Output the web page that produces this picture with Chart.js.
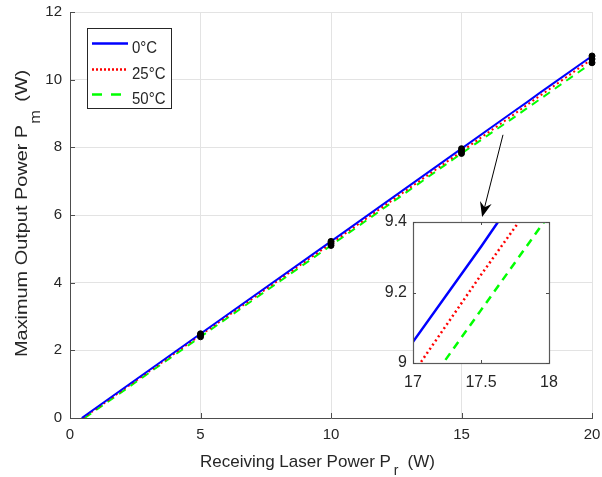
<!DOCTYPE html>
<html><head><meta charset="utf-8">
<script src="https://cdn.jsdelivr.net/npm/chart.js@4.4.0/dist/chart.umd.min.js"></script>
<style>
html,body{margin:0;padding:0;background:#fff;}
#wrap{position:relative;width:602px;height:477px;overflow:hidden;}
#main{position:absolute;left:0;top:0;}
#inset{position:absolute;left:360px;top:205px;}
</style></head><body>
<div id="wrap"><canvas id="main" width="602" height="477"></canvas><canvas id="inset" width="210" height="190"></canvas></div>
<script>
// ---- data ----
const seriesLabels = ['0°C', '25°C', '50°C'];
const prStart = [0.45, 0.50, 0.56];            // Pr where Pm reaches 0
const pr   = [5, 10, 15, 17, 17.5, 18, 20];
const pm0  = [2.49, 5.22, 7.96, 9.06, 9.33, 9.61, 10.70];
const pm25 = [2.45, 5.16, 7.88, 8.97, 9.25, 9.52, 10.61];
const pm50 = [2.40, 5.10, 7.82, 8.88, 9.15, 9.42, 10.50];
const markerPr = [5, 10, 15, 20];
const xTicks = [0, 5, 10, 15, 20];
const yTicks = [0, 2, 4, 6, 8, 10, 12];
const insetXTicks = [17, 17.5, 18];
const insetYTicks = [9, 9.2, 9.4];
const arrowFrom = {x: 16.59, y: 8.37};
const arrowTo = {x: 15.79, y: 5.94};

const FONT = "'Liberation Sans', Arial, sans-serif";
const TXT = '#262626';
const series = [pm0, pm25, pm50];
const colors = ['#0000ff', '#ff0000', '#00ff00'];
const dashes = [[], [2, 3], [8, 6]];

function lineData(i) {
  return [{x: prStart[i], y: 0}].concat(pr.map((x, k) => ({x, y: series[i][k]})));
}
function markerData() {
  const out = [];
  series.forEach(s => markerPr.forEach(x => out.push({x, y: s[pr.indexOf(x)]})));
  return out;
}
function lineSets(width) {
  return series.map((s, i) => ({
    label: seriesLabels[i], data: lineData(i), borderColor: colors[i], backgroundColor: colors[i],
    borderWidth: width, borderDash: dashes[i], pointRadius: 0, showLine: true, fill: false,
    tension: 0, order: i + 1
  }));
}

const whiteBg = {id: 'whiteBg', beforeDraw(c) {
  const ctx = c.ctx; ctx.save(); ctx.fillStyle = '#fff'; ctx.fillRect(0, 0, c.width, c.height); ctx.restore();
}};

function drawInTicks(chart, len, all, color) {
  const {ctx, chartArea: a, scales} = chart;
  ctx.save(); ctx.strokeStyle = color; ctx.lineWidth = 1; ctx.beginPath();
  scales.x.ticks.forEach(t => {
    const p = Math.round(scales.x.getPixelForValue(t.value)) + 0.5;
    ctx.moveTo(p, a.bottom); ctx.lineTo(p, a.bottom - len);
    if (all) { ctx.moveTo(p, a.top); ctx.lineTo(p, a.top + len); }
  });
  scales.y.ticks.forEach(t => {
    const p = Math.round(scales.y.getPixelForValue(t.value)) + 0.5;
    ctx.moveTo(a.left, p); ctx.lineTo(a.left + len, p);
    if (all) { ctx.moveTo(a.right, p); ctx.lineTo(a.right - len, p); }
  });
  ctx.stroke(); ctx.restore();
}

const mainDecor = {id: 'mainDecor',
  afterDraw(chart) {
    const {ctx, chartArea: a, scales} = chart;
    drawInTicks(chart, 5, false, '#4d4d4d');
    // arrow
    const x1 = scales.x.getPixelForValue(arrowFrom.x), y1 = scales.y.getPixelForValue(arrowFrom.y);
    const x2 = scales.x.getPixelForValue(arrowTo.x), y2 = scales.y.getPixelForValue(arrowTo.y);
    const ang = Math.atan2(y2 - y1, x2 - x1);
    ctx.save();
    ctx.strokeStyle = '#000'; ctx.fillStyle = '#000'; ctx.lineWidth = 1;
    ctx.beginPath(); ctx.moveTo(x1, y1); ctx.lineTo(x2 - 8 * Math.cos(ang), y2 - 8 * Math.sin(ang)); ctx.stroke();
    ctx.translate(x2, y2); ctx.rotate(ang);
    ctx.beginPath(); ctx.moveTo(0, 0); ctx.lineTo(-15, -6); ctx.lineTo(-10, 0); ctx.lineTo(-15, 6); ctx.closePath(); ctx.fill();
    ctx.restore();
    // legend
    const lx = a.left + 17.5, ly = a.top + 16.5, lw = 84, lh = 80;
    ctx.save();
    ctx.fillStyle = '#fff'; ctx.fillRect(lx, ly, lw, lh);
    ctx.strokeStyle = '#262626'; ctx.lineWidth = 1; ctx.strokeRect(lx, ly, lw, lh);
    const rows = [43, 69, 94];
    chart.data.datasets.slice(0, 3).forEach((d, i) => {
      ctx.beginPath(); ctx.strokeStyle = d.borderColor; ctx.lineWidth = 2.5;
      ctx.setLineDash(i === 1 ? [2, 2] : (i === 2 ? [10, 9] : []));
      ctx.moveTo(92, rows[i] + 0.5); ctx.lineTo(128, rows[i] + 0.5); ctx.stroke();
      ctx.setLineDash([]);
      ctx.fillStyle = TXT; ctx.font = '15px ' + FONT; ctx.textBaseline = 'alphabetic'; ctx.textAlign = 'left';
      ctx.save(); ctx.translate(132, rows[i] + 10); ctx.scale(1, 1.15); ctx.fillText(d.label, 0, 0); ctx.restore();
    });
    ctx.restore();
    // x title
    ctx.save(); ctx.fillStyle = TXT; ctx.textBaseline = 'alphabetic'; ctx.textAlign = 'left';
    ctx.font = '17px ' + FONT;
    const xt = 'Receiving Laser Power P';
    ctx.fillText(xt, 200, 467);
    let w = ctx.measureText(xt).width;
    ctx.font = '14px ' + FONT; ctx.fillText('r', 200 + w + 3, 475);
    const rw = ctx.measureText('r').width;
    ctx.font = '17px ' + FONT; ctx.fillText('(W)', 200 + w + 3 + rw + 9, 467);
    ctx.restore();
    // y title
    ctx.save(); ctx.fillStyle = TXT; ctx.textBaseline = 'alphabetic'; ctx.textAlign = 'left';
    ctx.translate(27, 357); ctx.rotate(-Math.PI / 2); ctx.scale(1.17, 1);
    ctx.font = '17px ' + FONT;
    const yt = 'Maximum Output Power P';
    ctx.fillText(yt, 0, 0);
    w = ctx.measureText(yt).width;
    ctx.font = '14px ' + FONT; ctx.fillText('m', w + 1, 13);
    const mw = ctx.measureText('m').width;
    ctx.font = '17px ' + FONT; ctx.fillText('(W)', w + 1 + mw + 7, 0);
    ctx.restore();
  }
};

function fitX(h) { return s => { s.height = h; s.paddingLeft = 0; s.paddingRight = 0; s.paddingTop = 0; s.paddingBottom = 0; }; }
function fitY(w) { return s => { s.width = w; s.paddingLeft = 0; s.paddingRight = 0; s.paddingTop = 0; s.paddingBottom = 0; }; }

const mainChart = new Chart(document.getElementById('main'), {
  type: 'scatter',
  data: {datasets: lineSets(2).concat([{
    label: 'points', data: markerData(), pointRadius: 3, pointBackgroundColor: '#000',
    pointBorderColor: '#000', showLine: false, clip: false, order: 0
  }])},
  options: {
    responsive: false, devicePixelRatio: 1, animation: false,
    layout: {padding: {top: 12, right: 10, left: 0, bottom: 0}},
    plugins: {legend: {display: false}, tooltip: {enabled: false}},
    scales: {
      x: {type: 'linear', min: 0, max: 20,
        afterFit: fitX(59),
        afterBuildTicks(s) { s.ticks = xTicks.map(v => ({value: v})); },
        grid: {color: '#e3e3e3', lineWidth: 1, drawTicks: false},
        border: {color: '#4d4d4d', width: 1},
        ticks: {padding: 8, color: TXT, font: {family: FONT, size: 15}, maxRotation: 0, callback: v => String(v)}
      },
      y: {type: 'linear', min: 0, max: 12,
        afterFit: fitY(70),
        afterBuildTicks(s) { s.ticks = yTicks.map(v => ({value: v})); },
        grid: {color: '#e3e3e3', lineWidth: 1, drawTicks: false},
        border: {color: '#4d4d4d', width: 1},
        ticks: {padding: 8, color: TXT, font: {family: FONT, size: 15}, callback: v => String(v)}
      }
    }
  },
  plugins: [whiteBg, mainDecor]
});

const insetDecor = {id: 'insetDecor',
  beforeDatasetsDraw(chart) {
    const {ctx, chartArea: a} = chart;
    ctx.save(); ctx.fillStyle = '#fff'; ctx.fillRect(a.left, a.top, a.right - a.left, a.bottom - a.top); ctx.restore();
  },
  afterDraw(chart) {
    const {ctx, chartArea: a} = chart;
    ctx.save(); ctx.strokeStyle = '#5a5a5a'; ctx.lineWidth = 1.2;
    ctx.strokeRect(Math.round(a.left) + 0.5, Math.round(a.top) + 0.5, Math.round(a.right - a.left), Math.round(a.bottom - a.top));
    ctx.restore();
    drawInTicks(chart, 3, true, '#4d4d4d');
  }
};

const insetChart = new Chart(document.getElementById('inset'), {
  type: 'scatter',
  data: {datasets: lineSets(2.5)},
  options: {
    responsive: false, devicePixelRatio: 1, animation: false,
    layout: {padding: {top: 17, right: 21, left: 0, bottom: 0}},
    plugins: {legend: {display: false}, tooltip: {enabled: false}},
    scales: {
      x: {type: 'linear', min: 17, max: 18,
        afterFit: fitX(32),
        afterBuildTicks(s) { s.ticks = insetXTicks.map(v => ({value: v})); },
        grid: {display: false, drawTicks: false}, border: {display: false},
        ticks: {padding: 10, color: TXT, font: {family: FONT, size: 16}, maxRotation: 0, callback: v => String(v)}
      },
      y: {type: 'linear', min: 9, max: 9.4,
        afterFit: fitY(53),
        afterBuildTicks(s) { s.ticks = insetYTicks.map(v => ({value: v})); },
        grid: {display: false, drawTicks: false}, border: {display: false},
        ticks: {padding: 6, color: TXT, font: {family: FONT, size: 16}, callback: v => String(v)}
      }
    }
  },
  plugins: [insetDecor]
});
</script>
</body></html>
